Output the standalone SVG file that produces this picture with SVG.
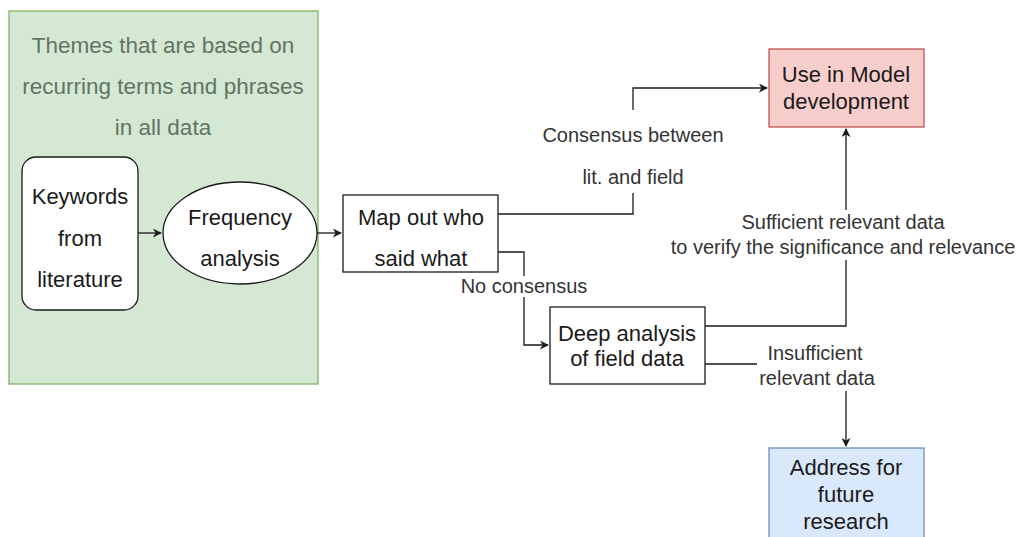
<svg xmlns="http://www.w3.org/2000/svg" width="1021" height="537" viewBox="0 0 1021 537">
<style>
.t{font-family:"Liberation Sans",Arial,sans-serif;font-size:22px;fill:#1a1a1a;text-anchor:middle}
.th{font-family:"Liberation Sans",Arial,sans-serif;font-size:22.5px;fill:#627462;text-anchor:middle}
.l{font-family:"Liberation Sans",Arial,sans-serif;font-size:20px;fill:#333;text-anchor:middle}
.c{fill:none;stroke:#1a1a1a;stroke-width:1.3}
</style>
<defs>
<marker id="a" viewBox="0 0 10 10" refX="9" refY="5" markerWidth="9" markerHeight="9" markerUnits="userSpaceOnUse" orient="auto">
<path d="M0,0 L10,5 L0,10 L3,5 Z" fill="#1a1a1a"/>
</marker>
</defs>
<rect width="1021" height="537" fill="#fff"/>
<g id="container">
<rect x="9" y="11" width="309" height="373" fill="#d5e8d4" stroke="#82b366" stroke-width="1.3"/>
<text class="th" x="163" y="53">Themes that are based on</text>
<text class="th" x="163" y="94">recurring terms and phrases</text>
<text class="th" x="163" y="135">in all data</text>
</g>
<g id="connectors">
<path class="c" d="M138,233 H161" marker-end="url(#a)"/>
<path class="c" d="M317,233 H341" marker-end="url(#a)"/>
<path class="c" d="M498,214 H633 V193 M633,110 V88 H767" marker-end="url(#a)"/>
<path class="c" d="M498,252 H524 V276 M524,297 V345 H548" marker-end="url(#a)"/>
<path class="c" d="M705,326 H846 V260 M846,210 V129" marker-end="url(#a)"/>
<path class="c" d="M705,364 H757 M846,391 V446" marker-end="url(#a)"/>
<text class="l" x="633" y="142">Consensus between</text>
<text class="l" x="633" y="184">lit. and field</text>
<text class="l" x="524" y="293">No consensus</text>
<text class="l" x="843" y="229">Sufficient relevant data</text>
<text class="l" x="843" y="254">to verify the significance and relevance</text>
<text class="l" x="815" y="360">Insufficient</text>
<text class="l" x="817" y="385">relevant data</text>
</g>
<g id="keywords">
<rect x="22" y="157" width="116" height="153" rx="14" fill="#fff" stroke="#1a1a1a" stroke-width="1.3"/>
<text class="t" x="80" y="204">Keywords</text>
<text class="t" x="80" y="246">from</text>
<text class="t" x="80" y="287">literature</text>
</g>
<g id="frequency">
<ellipse cx="240" cy="233" rx="77" ry="51" fill="#fff" stroke="#1a1a1a" stroke-width="1.3"/>
<text class="t" x="240" y="225">Frequency</text>
<text class="t" x="240" y="266">analysis</text>
</g>
<g id="mapout">
<rect x="343" y="195" width="155" height="77" fill="#fff" stroke="#1a1a1a" stroke-width="1.3"/>
<text class="t" x="421" y="225">Map out who</text>
<text class="t" x="421" y="266">said what</text>
</g>
<g id="deep">
<rect x="550" y="307" width="155" height="77" fill="#fff" stroke="#1a1a1a" stroke-width="1.3"/>
<text class="t" x="627" y="341">Deep analysis</text>
<text class="t" x="627" y="366">of field data</text>
</g>
<g id="model">
<rect x="769" y="49" width="155" height="78" fill="#f8cecc" stroke="#b85450" stroke-width="1.3"/>
<text class="t" x="846" y="82">Use in Model</text>
<text class="t" x="846" y="109">development</text>
</g>
<g id="future">
<rect x="769" y="448" width="155" height="100" fill="#dae8fc" stroke="#6c8ebf" stroke-width="1.3"/>
<text class="t" x="846" y="475">Address for</text>
<text class="t" x="846" y="502">future</text>
<text class="t" x="846" y="529">research</text>
</g>
</svg>
